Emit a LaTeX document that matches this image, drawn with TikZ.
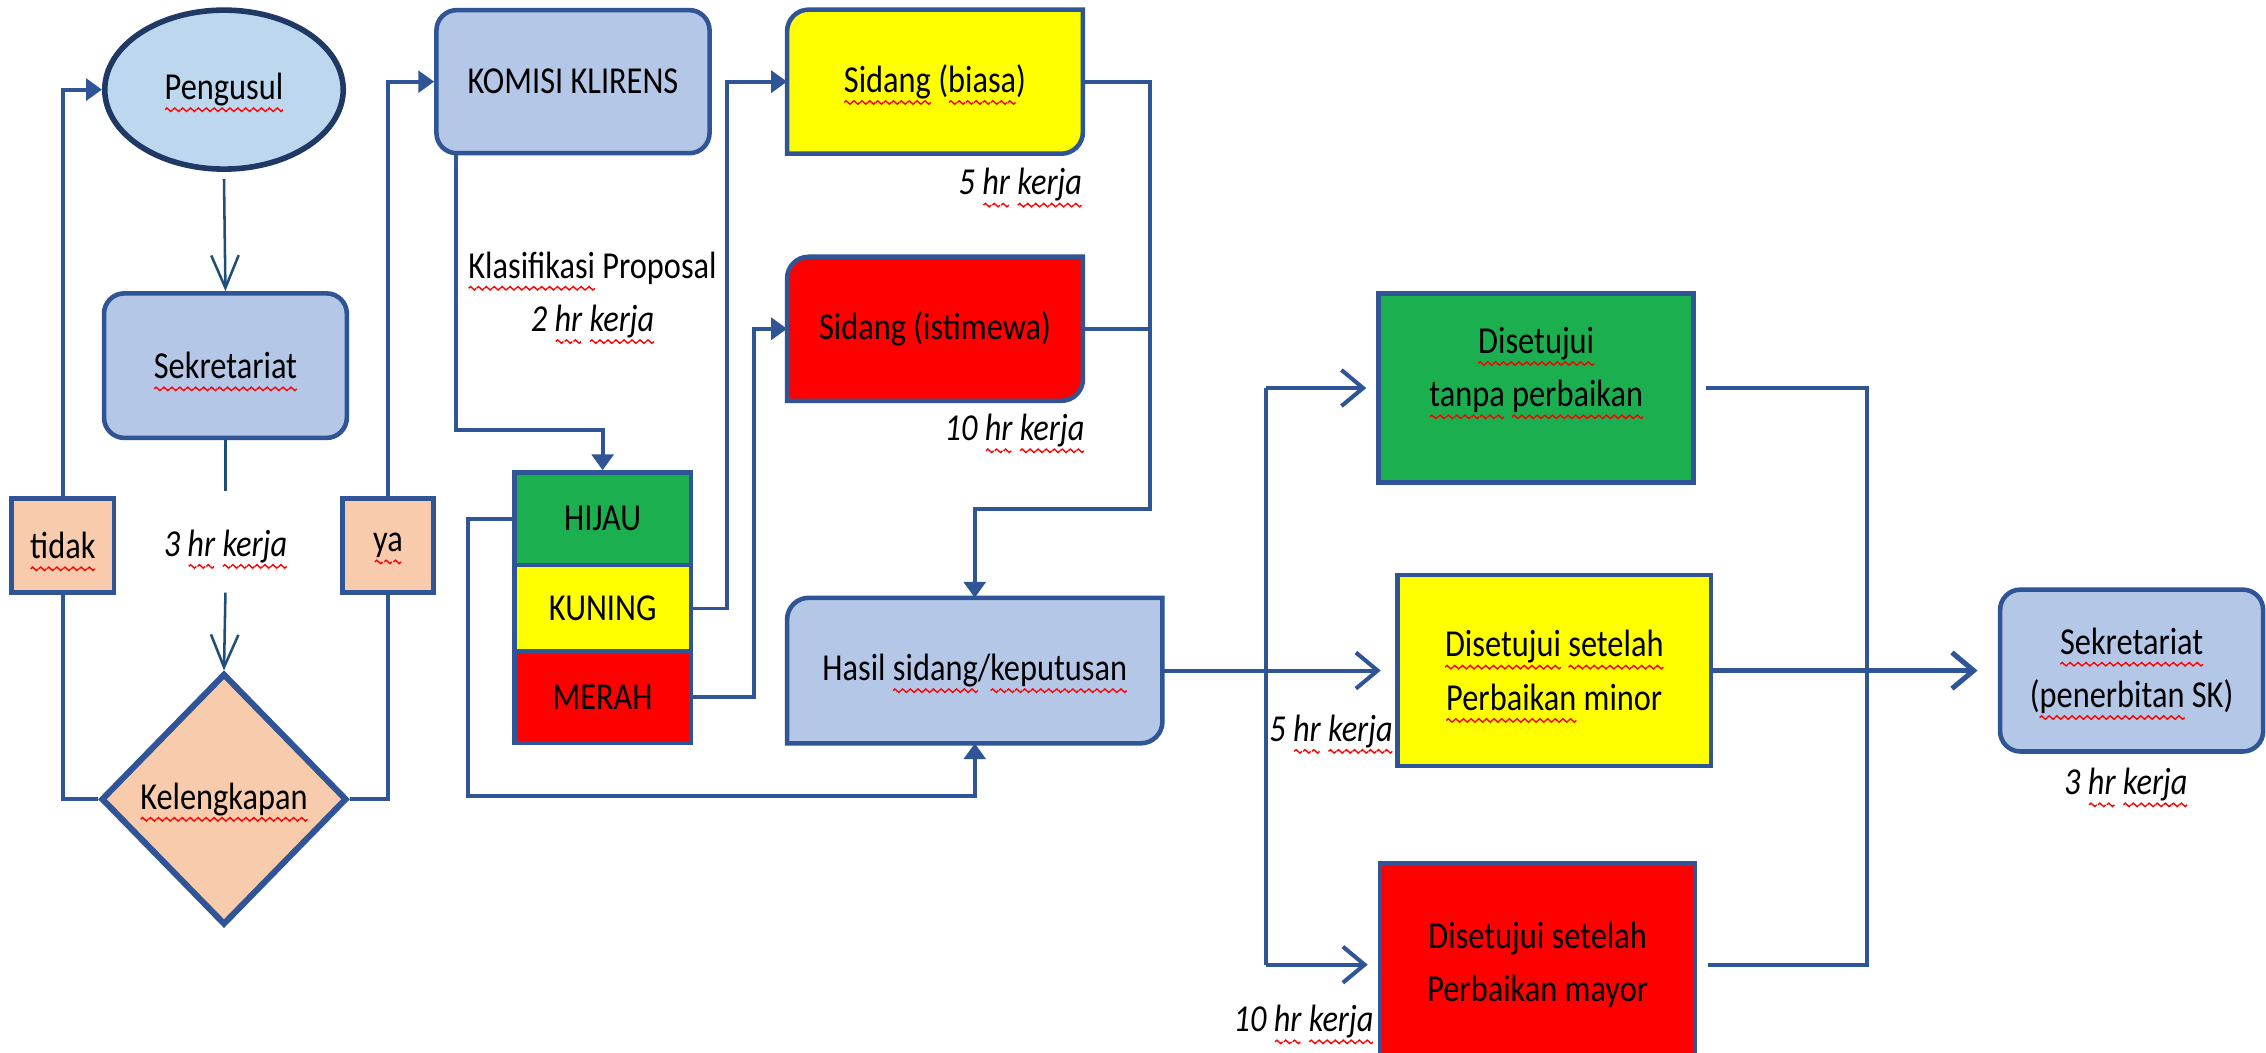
\documentclass[tikz,border=0pt]{standalone}
\usepackage{fontspec}
\setmainfont{Carlito}[FakeStretch=0.85]
\usetikzlibrary{shapes.geometric,arrows.meta,calc,backgrounds}
\definecolor{lnblue}{RGB}{47,85,151}
\definecolor{darkarr}{RGB}{31,78,121}
\definecolor{boxblue}{RGB}{180,199,231}
\definecolor{ellblue}{RGB}{189,215,238}
\definecolor{navy}{RGB}{32,56,100}
\definecolor{peach}{RGB}{248,203,173}
\definecolor{grn}{RGB}{27,175,80}
\definecolor{ylw}{RGB}{255,255,0}
\definecolor{rd}{RGB}{255,0,0}
\newsavebox{\wavebox}
\newcommand\sq[1]{\leavevmode\setbox0\hbox{#1}\rlap{\raisebox{-5pt}[0pt][0pt]{\hbox to\wd0{\xleaders\copy\wavebox\hfill}}}\box0\relax}
\def\rr{0.3cm}
\newcommand\diagshape[2]{%
  \begin{scope}[on background layer]
  \draw[draw=lnblue, line width=1.8pt, fill=#2]
    (#1.south west) -- ([yshift=-\rr]#1.north west)
    arc[start angle=180,end angle=90,radius=\rr] -- (#1.north east)
    -- ([yshift=\rr]#1.south east)
    arc[start angle=0,end angle=-90,radius=\rr] -- cycle;
  \end{scope}}
\tikzset{
  txt/.style={font=\fontsize{15}{21}\selectfont, align=center, inner sep=0pt, text=black},
  sz/.style 2 args={minimum width=#1*0.02cm, minimum height=#2*0.02cm},
  ell/.style={txt, ellipse, draw=navy, line width=2.2pt, fill=ellblue},
  rbox/.style={txt, rectangle, rounded corners=0.28cm, draw=lnblue, line width=1.8pt, fill=boxblue},
  dia/.style={txt, diamond, draw=lnblue, line width=2.4pt, fill=peach},
  pbox/.style={txt, rectangle, draw=lnblue, line width=1.8pt, fill=peach},
  sbox/.style={txt, rectangle, draw=lnblue, line width=1.8pt},
  ln/.style={draw=lnblue, line width=1.5pt},
  tri/.style={ln, -{Triangle[length=0.22cm,width=0.3cm]}},
  opn/.style={draw=lnblue, line width=1.6pt, -{Straight Barb[length=0.3cm,width=0.5cm]}},
  vln/.style={draw=darkarr, line width=1pt},
  vopen/.style={vln, -{Straight Barb[length=0.45cm,width=0.38cm]}}
}
\begin{document}
\sbox{\wavebox}{\pgfpicture
  \pgfpathrectangle{\pgfpoint{0pt}{-1pt}}{\pgfpoint{3pt}{2pt}}\pgfusepath{use as bounding box}%
  \pgfsetlinewidth{0.55pt}\pgfsetstrokecolor{red}%
  \pgfpathmoveto{\pgfpoint{0pt}{0pt}}%
  \pgfpathcurveto{\pgfpoint{0.5pt}{0.9pt}}{\pgfpoint{1pt}{0.9pt}}{\pgfpoint{1.5pt}{0pt}}%
  \pgfpathcurveto{\pgfpoint{2pt}{-0.9pt}}{\pgfpoint{2.5pt}{-0.9pt}}{\pgfpoint{3pt}{0pt}}%
  \pgfusepath{stroke}%
\endpgfpicture}%
\begin{tikzpicture}[x=0.02cm, y=-0.02cm]
\useasboundingbox (0,0) rectangle (1568,728);
\begin{scope}[on background layer]
\fill[white] (0,0) rectangle (1568,728);
\end{scope}
\clip (0,0) rectangle (1568,728);

% left column
\node[ell, sz={165}{110}] (peng) at (155,62) {\sq{Pengusul}};
\node[rbox, sz={168}{100}] (sek1) at (156,253) {\sq{Sekretariat}};
\node[dia, sz={170}{174}] (kel) at (155,553) {\sq{Kelengkapan}};
\node[pbox, sz={71}{65}] (tidak) at (43.5,377.5) {\sq{tidak}};
\node[pbox, sz={63}{65}] (ya) at (268.5,377.5) {\sq{ya}};
\node[txt] (l3a) at (156,378) {\textit{3 \sq{hr} \sq{kerja}}};
\coordinate (c1) at (156,340);
\coordinate (c2) at (156,410);

% komisi and classification
\node[rbox, sz={189}{99}] (kom) at (396.5,56.5) {KOMISI KLIRENS};
\node[txt] (lkp) at (410,204) {\sq{Klasifikasi} Proposal\\\textit{2 \sq{hr} \sq{kerja}}};
\node[sbox, fill=grn, sz={122}{64}] (hijau) at (417,359) {HIJAU};
\node[sbox, fill=ylw, sz={122}{60}] (kuning) at (417,421) {KUNING};
\node[sbox, fill=rd, sz={122}{63}] (merah) at (417,482.5) {MERAH};

% sidang
\node[txt, sz={204}{99}] (sb) at (647,56.5) {\sq{Sidang} (\sq{biasa})};
\diagshape{sb}{ylw}
\node[txt, sz={204}{99}] (si) at (647,227.5) {Sidang (istimewa)};
\diagshape{si}{rd}
\node[txt] (l5a) at (706,128) {\textit{5 \sq{hr} \sq{kerja}}};
\node[txt] (l10a) at (702,298) {\textit{10 \sq{hr} \sq{kerja}}};
\node[txt, sz={259}{100}] (has) at (674.5,464) {Hasil \sq{sidang}/\sq{keputusan}};
\diagshape{has}{boxblue}

% decisions
\node[sbox, fill=grn, sz={218}{131}] (d1) at (1063,268.5) {};
\node[txt] (d1t) at (1063,256) {\sq{Disetujui}\\\sq{tanpa} \sq{perbaikan}};
\node[sbox, fill=ylw, sz={217}{132}] (d2) at (1075.5,464) {\sq{Disetujui} \sq{setelah}\\\sq{Perbaikan} minor};
\node[sbox, fill=rd, sz={218}{140}] (d3) at (1064,667.5) {Disetujui setelah\\Perbaikan mayor};
\node[txt] (l5b) at (921,506) {\textit{5 \sq{hr} \sq{kerja}}};
\node[txt] (l10b) at (902,707) {\textit{10 \sq{hr} \sq{kerja}}};
\node[rbox, sz={182}{112}] (sek2) at (1475,464) {\sq{Sekretariat}\\(\sq{penerbitan} SK)};
\node[txt] (l3b) at (1471,543) {\textit{3 \sq{hr} \sq{kerja}}};

% connectors left
\draw[vopen] ([yshift=-0.1cm]peng.south) -- (sek1.north);
\draw[vln] (sek1.south) -- (c1);
\draw[vopen] (c2) -- (kel.north);
\draw[ln] (kel.west) -| (tidak.south);
\draw[tri] (tidak.north) |- (peng.west);
\draw[ln] (kel.east) -| (ya.south);
\draw[tri] (ya.north) |- (kom.west);
\draw[tri] ([xshift=0.3cm]kom.south west) -- ++(0,190) -| (hijau.north);
\draw[tri] (hijau.west) -| (324,551) -| (has.south);
\draw[tri] (kuning.east) -- (503,421) |- (sb.west);
\draw[tri] (merah.east) -- (522,482.5) |- (si.west);
\draw[tri] (sb.east) -| (796,352) -| (has.north);
\draw[ln] (si.east) -- (796,227.5);

% connectors right
\coordinate (jm) at (876,464);
\coordinate (rx) at (1292,464);
\draw[opn, shorten >=0.2cm] (has.east) -- (d2.west);
\draw[ln] (jm |- d1.west) -- (jm |- d3.west);
\draw[opn, shorten >=0.14cm] (jm |- d1.west) -- (d1.west);
\draw[opn, shorten >=0.14cm] (jm |- d3.west) -- (d3.west);
\draw[ln, shorten <=0.14cm, shorten >=0.14cm] (d1.east) -| (rx) |- (d3.east);
\draw[opn, line width=2pt, shorten >=0.28cm] (d2.east) -- (sek2.west);
\end{tikzpicture}
\end{document}
